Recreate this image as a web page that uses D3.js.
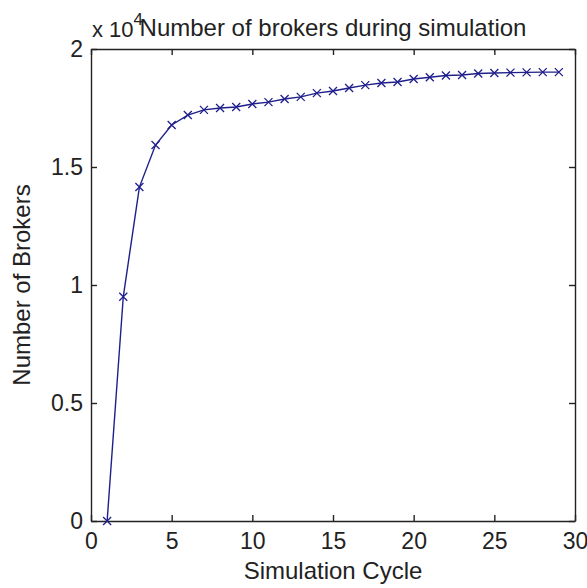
<!DOCTYPE html>
<html>
<head>
<meta charset="utf-8">
<script src="https://cdn.jsdelivr.net/npm/d3@7"></script>
<style>
	body { margin: 0; background: #fff; }
	text { font-family: "Liberation Sans", Arial, sans-serif; fill: #222; }
	.axis path, .axis line { stroke: #222; stroke-width: 1.4; }
</style>
</head>
<body>
<div class="viz"></div>
<script>
	// data (number of brokers, raw values)
	var cycles = [1, 2, 3, 4, 5, 6, 7, 8, 9, 10, 11, 12, 13, 14, 15,
		16, 17, 18, 19, 20, 21, 22, 23, 24, 25, 26, 27, 28, 29];
	var brokers = [0, 9500, 14150, 15930, 16780, 17200, 17420, 17500, 17540, 17670,
		17750, 17880, 17970, 18130, 18220, 18350, 18470, 18560, 18600, 18730,
		18800, 18880, 18900, 18960, 18980, 19000, 19010, 19020, 19020];
	var xTicks = [0, 5, 10, 15, 20, 25, 30];
	var yTicks = [0, 5000, 10000, 15000, 20000];
	var yTickLabels = ['0', '0.5', '1', '1.5', '2'];

	var titleText = 'Number of brokers during simulation';
	var xLabel = 'Simulation Cycle';
	var yLabel = 'Number of Brokers';

	// Defining SVG
	var margin = {top: 49, right: 12, bottom: 67, left: 91};
	var width = 587 - margin.left - margin.right;
	var height = 588 - margin.top - margin.bottom;

	var svg = d3.select('.viz')
		.append('svg')
		.attr('width', width + margin.left + margin.right)
		.attr('height', height + margin.top + margin.bottom)
		.append('g')
		.attr('transform', 'translate(' + margin.left + ',' + margin.top + ')');

	// Scales
	var xScale = d3.scaleLinear().domain([0, 30]).range([0, width]);
	var yScale = d3.scaleLinear().domain([0, 20000]).range([height, 0]);

	// Axes, ticks point inward like matlab
	var xAxis = d3.axisBottom(xScale).tickValues(xTicks)
		.tickSizeInner(-6).tickSizeOuter(0).tickPadding(12);
	var yAxis = d3.axisLeft(yScale).tickValues(yTicks)
		.tickFormat(function(d, i){ return yTickLabels[i]; })
		.tickSizeInner(-6).tickSizeOuter(0).tickPadding(8);
	var xAxisTop = d3.axisTop(xScale).tickValues(xTicks)
		.tickSizeInner(-6).tickSizeOuter(0).tickFormat('');
	var yAxisRight = d3.axisRight(yScale).tickValues(yTicks)
		.tickSizeInner(-6).tickSizeOuter(0).tickFormat('');

	svg.append('g')
		.attr('class', 'x axis')
		.attr('transform', 'translate(0,' + height + ')')
		.call(xAxis);

	svg.append('g')
		.attr('class', 'y axis')
		.call(yAxis);

	svg.append('g')
		.attr('class', 'axis')
		.call(xAxisTop);

	svg.append('g')
		.attr('class', 'axis')
		.attr('transform', 'translate(' + width + ',0)')
		.call(yAxisRight);

	svg.selectAll('.axis text')
		.style('font-size', '23px')
		.style('font-family', '"Liberation Sans", Arial, sans-serif')
		.attr('fill', '#222');

	// the line
	var points = cycles.map(function(c, i){ return {x: c, y: brokers[i]}; });

	var line = d3.line()
		.x(function(d){ return xScale(d.x); })
		.y(function(d){ return yScale(d.y); });

	svg.append('path')
		.datum(points)
		.attr('fill', 'none')
		.attr('stroke', '#1f1f8c')
		.attr('stroke-width', 1.4)
		.attr('d', line);

	// x markers
	svg.selectAll('.marker')
		.data(points)
		.enter().append('path')
		.attr('class', 'marker')
		.attr('d', 'M-4,-4L4,4M-4,4L4,-4')
		.attr('stroke', '#1f1f8c')
		.attr('stroke-width', 1.3)
		.attr('transform', function(d){ return 'translate(' + xScale(d.x) + ',' + yScale(d.y) + ')'; });

	// labels
	svg.append('text')
		.attr('x', width / 2)
		.attr('y', -13)
		.attr('text-anchor', 'middle')
		.style('font-size', '24px')
		.text(titleText);

	svg.append('text')
		.attr('x', width / 2)
		.attr('y', height + 58)
		.attr('text-anchor', 'middle')
		.style('font-size', '24px')
		.text(xLabel);

	svg.append('text')
		.attr('transform', 'translate(' + (-61) + ',' + (height / 2) + ') rotate(-90)')
		.attr('text-anchor', 'middle')
		.style('font-size', '24px')
		.text(yLabel);

	// exponent label "x 10^4"
	var expo = svg.append('text')
		.attr('x', 1)
		.attr('y', -12)
		.style('font-size', '22px');
	expo.append('tspan').text('x 10');
	expo.append('tspan')
		.attr('dy', -12)
		.style('font-size', '17px')
		.text('4');
</script>
</body>
</html>
